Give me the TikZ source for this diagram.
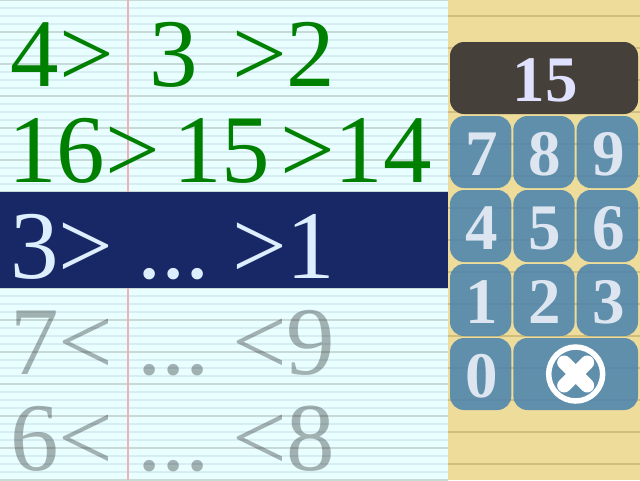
\documentclass[tikz,border=0pt]{standalone}
\usepackage{fontspec}
\setmainfont{Liberation Serif}
\usepackage{xcolor}
\usetikzlibrary{positioning, calc}
\definecolor{sheetblue}{RGB}{233, 255, 255}
\definecolor{ruleblue}{RGB}{214, 238, 242}
\definecolor{rulegray}{RGB}{200, 218, 216}
\definecolor{marginred}{RGB}{240, 176, 180}
\definecolor{padyellow}{RGB}{238, 220, 154}
\definecolor{padrule}{RGB}{208, 190, 128}
\definecolor{rownavy}{RGB}{18, 34, 98}
\definecolor{rowtext}{RGB}{221, 238, 255}
\definecolor{keyblue}{RGB}{72, 130, 176}
\definecolor{keytext}{RGB}{221, 230, 240}
\definecolor{shelldark}{RGB}{70, 64, 58}
\definecolor{shelltext}{RGB}{224, 224, 255}
\definecolor{okgreen}{RGB}{0, 128, 0}

\begin{document}
\begin{tikzpicture}[
		x=1pt, y=-1pt,
		numeral/.style={anchor=base west, inner sep=0pt, outer sep=0pt, font=\fontsize{97pt}{97pt}\selectfont},
		solved/.style={numeral, text=okgreen},
		active/.style={numeral, text=rowtext},
		pending/.style={numeral, text=black, text opacity=0.3},
		keybox/.style={rectangle, rounded corners=14pt, fill=keyblue, fill opacity=0.85, text opacity=1, text=keytext,
			minimum width=61.33pt, minimum height=72pt, inner sep=0pt, outer sep=0pt, text height=46.5pt, text depth=0pt,
			execute at begin node={\hspace*{2pt}}, font=\fontsize{65pt}{65pt}\selectfont\bfseries},
		screen/.style={keybox, fill=shelldark, fill opacity=1, text=shelltext, minimum width=188pt, execute at begin node={}}
	]
	\useasboundingbox (0,0) rectangle (640,480);
	
	% paper
	\fill[sheetblue] (0,0) rectangle (448,480);
	\fill[padyellow] (448,0) rectangle (640,480);
	\foreach \y in {8,16,...,480} {
		\draw[ruleblue, line width=1.5pt] (0,\y) -- (448,\y);
	}
	\foreach \y in {0,32,...,480} {
		\draw[rulegray, line width=1.5pt] (0,\y) -- (448,\y);
	}
	\foreach \y in {16,48,...,464} {
		\draw[padrule, line width=1.5pt] (448,\y) -- (640,\y);
	}
	\draw[marginred, line width=1.2pt] (128,0) -- (128,480);
	\fill[rownavy, fill opacity=0.97] (0,192) rectangle (448,288);
	
	% rows
	\node[solved] (a1) at (10.5,86) {4>};
	\node[solved] (a2) at (149,86) {3};
	\node[solved] (a3) at (232,86) {>2};
	\node[solved] (b1) at (8.5,182) {16>};
	\node[solved] (b2) at (173,182) {15};
	\node[solved] (b3) at (280,182) {>14};
	\node[active] (c1) at (10,278) {3>};
	\node[active] (c2) at (137,278) {...};
	\node[active] (c3) at (232,278) {>1};
	\node[pending] (d1) at (10,374) {7<};
	\node[pending] (d2) at (137,374) {...};
	\node[pending] (d3) at (232,374) {<9};
	\node[pending] (e1) at (10,470) {6<};
	\node[pending] (e2) at (137,470) {...};
	\node[pending] (e3) at (232,470) {<8};
	
	% keypad
	\node[screen] (shell) at (544,78) {15};
	\node[keybox] (k7) at (480.67,152) {7};
	\node[keybox, right=2pt of k7] (k8) {8};
	\node[keybox, right=2pt of k8] (k9) {9};
	\node[keybox, below=2pt of k7] (k4) {4};
	\node[keybox, right=2pt of k4] (k5) {5};
	\node[keybox, right=2pt of k5] (k6) {6};
	\node[keybox, below=2pt of k4] (k1) {1};
	\node[keybox, right=2pt of k1] (k2) {2};
	\node[keybox, right=2pt of k2] (k3) {3};
	\node[keybox, below=2pt of k1] (k0) {0};
	\node[keybox, right=2pt of k0, minimum width=124.67pt] (kclear) {};
	
	\node[circle, draw=white, line width=5.5pt, minimum size=54pt, inner sep=0pt] (ring) at (kclear.center) {};
	\draw[white, line width=14pt, line cap=round] ($(ring.center)+(-11.5,-11.5)$) -- ($(ring.center)+(11.5,11.5)$);
	\draw[white, line width=14pt, line cap=round] ($(ring.center)+(-11.5,11.5)$) -- ($(ring.center)+(11.5,-11.5)$);
\end{tikzpicture}
\end{document}
